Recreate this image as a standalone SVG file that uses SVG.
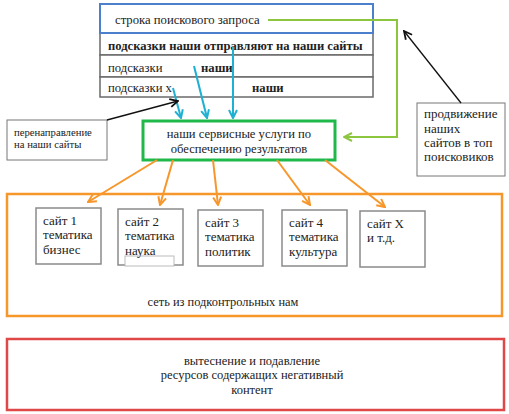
<svg xmlns="http://www.w3.org/2000/svg" width="509" height="414" viewBox="0 0 509 414">
<defs>
<style>
.row{fill:#fff;stroke:#6a6a6a;stroke-width:1.5}
.site{fill:#fff;stroke:#8a8a8a;stroke-width:1.5}
.cy{stroke:#1fb0d2;stroke-width:2;fill:none;marker-end:url(#mc)}
.or{stroke:#f7962a;stroke-width:2;fill:none;marker-end:url(#mo)}
.gr{stroke:#8cc63f;stroke-width:2;fill:none;marker-end:url(#mg)}
.bk{stroke:#111;stroke-width:1.3;fill:none;marker-end:url(#mk)}
</style>
<marker id="mc" markerWidth="10" markerHeight="10" refX="9" refY="5" orient="auto" markerUnits="userSpaceOnUse"><path d="M1,1 L9,5 L1,9" fill="none" stroke="#1fb0d2" stroke-width="2"/></marker>
<marker id="mo" markerWidth="10" markerHeight="10" refX="9" refY="5" orient="auto" markerUnits="userSpaceOnUse"><path d="M1,1 L9,5 L1,9" fill="none" stroke="#f7962a" stroke-width="2"/></marker>
<marker id="mg" markerWidth="10" markerHeight="10" refX="9" refY="5" orient="auto" markerUnits="userSpaceOnUse"><path d="M1,1 L9,5 L1,9" fill="none" stroke="#8cc63f" stroke-width="2"/></marker>
<marker id="mk" markerWidth="10" markerHeight="10" refX="9" refY="5" orient="auto" markerUnits="userSpaceOnUse"><path d="M1,1 L9,5 L1,9" fill="none" stroke="#111" stroke-width="1.8"/></marker>
</defs>
<rect width="509" height="414" fill="#fff"/>
<g id="query-table">
<rect class="row" x="100" y="33" width="273" height="22"/>
<rect class="row" x="100" y="55" width="273" height="22"/>
<rect class="row" x="100" y="77" width="273" height="20"/>
<rect x="100" y="4" width="273" height="29" fill="#fff" stroke="#4d80cc" stroke-width="2"/>
<text font-family="Liberation Serif" font-size="12.7" fill="#222" x="115" y="24">строка поискового запроса</text>
<text font-family="Liberation Serif" font-size="12.6" font-weight="bold" fill="#222" x="108" y="50">подсказки наши отправляют на наши сайты</text>
<text font-family="Liberation Serif" font-size="12.7" fill="#222" x="108" y="72">подсказки</text>
<text font-family="Liberation Serif" font-size="12.7" font-weight="bold" fill="#222" x="201" y="72">наши</text>
<text font-family="Liberation Serif" font-size="12.7" fill="#222" x="108" y="92">подсказки х</text>
<text font-family="Liberation Serif" font-size="12.7" font-weight="bold" fill="#222" x="252" y="92">наши</text>
</g>
<g id="redirect">
<rect x="7" y="120" width="100" height="40" fill="#fff" stroke="#777" stroke-width="1"/>
<text font-family="Liberation Serif" font-size="10.7" fill="#222" x="14" y="136">перенаправление</text>
<text font-family="Liberation Serif" font-size="10.7" fill="#222" x="14" y="148">на наши сайты</text>
</g>
<g id="services">
<rect x="143" y="121" width="192" height="39" fill="#fff" stroke="#1fb84a" stroke-width="3"/>
<text font-family="Liberation Serif" font-size="12.6" fill="#222" x="239" y="138" text-anchor="middle">наши сервисные услуги по</text>
<text font-family="Liberation Serif" font-size="12.6" fill="#222" x="239" y="153" text-anchor="middle">обеспечению результатов</text>
</g>
<g id="promotion">
<rect x="417" y="103" width="88" height="73" fill="#fff" stroke="#777" stroke-width="1"/>
<text font-family="Liberation Serif" font-size="13" fill="#222" x="424" y="118">продвижение</text>
<text font-family="Liberation Serif" font-size="13" fill="#222" x="424" y="133">наших</text>
<text font-family="Liberation Serif" font-size="13" fill="#222" x="424" y="147">сайтов в топ</text>
<text font-family="Liberation Serif" font-size="13" fill="#222" x="424" y="161">поисковиков</text>
</g>
<g id="network">
<rect x="7" y="194" width="495" height="122" fill="none" stroke="#f7962a" stroke-width="2.5"/>
<text font-family="Liberation Serif" font-size="12.4" fill="#222" x="223" y="306" text-anchor="middle">сеть из подконтрольных нам</text>
</g>
<g id="site1">
<rect class="site" x="36" y="208" width="65" height="56"/>
<text font-family="Liberation Serif" font-size="13" fill="#222" x="43" y="225">сайт 1</text>
<text font-family="Liberation Serif" font-size="13" fill="#222" x="43" y="239">тематика</text>
<text font-family="Liberation Serif" font-size="13" fill="#222" x="43" y="254">бизнес</text>
</g>
<g id="site2">
<rect class="site" x="118" y="209" width="65" height="56"/>
<rect x="125" y="256" width="49" height="10" fill="#fff" stroke="#bbb" stroke-width="1"/>
<text font-family="Liberation Serif" font-size="13" fill="#222" x="125" y="226">сайт 2</text>
<text font-family="Liberation Serif" font-size="13" fill="#222" x="125" y="240">тематика</text>
<text font-family="Liberation Serif" font-size="13" fill="#222" x="125" y="255">наука</text>
</g>
<g id="site3">
<rect class="site" x="198" y="210" width="65" height="56"/>
<text font-family="Liberation Serif" font-size="13" fill="#222" x="205" y="227">сайт 3</text>
<text font-family="Liberation Serif" font-size="13" fill="#222" x="205" y="241">тематика</text>
<text font-family="Liberation Serif" font-size="13" fill="#222" x="205" y="256">политик</text>
</g>
<g id="site4">
<rect class="site" x="282" y="210" width="65" height="56"/>
<text font-family="Liberation Serif" font-size="13" fill="#222" x="289" y="227">сайт 4</text>
<text font-family="Liberation Serif" font-size="13" fill="#222" x="289" y="241">тематика</text>
<text font-family="Liberation Serif" font-size="13" fill="#222" x="289" y="256">культура</text>
</g>
<g id="siteX">
<rect class="site" x="360" y="211" width="65" height="56"/>
<text font-family="Liberation Serif" font-size="13" fill="#222" x="367" y="228">сайт Х</text>
<text font-family="Liberation Serif" font-size="13" fill="#222" x="367" y="242">и т.д.</text>
</g>
<g id="suppression">
<rect x="7" y="339" width="497" height="71" fill="#fff" stroke="#e04848" stroke-width="2.5"/>
<text font-family="Liberation Serif" font-size="12.5" fill="#222" x="252" y="365" text-anchor="middle">вытеснение и подавление</text>
<text font-family="Liberation Serif" font-size="12.5" fill="#222" x="252" y="379" text-anchor="middle">ресурсов содержащих негативный</text>
<text font-family="Liberation Serif" font-size="12.5" fill="#222" x="252" y="394" text-anchor="middle">контент</text>
</g>
<g id="connectors">
<path class="cy" d="M173,88 L181,118"/>
<path class="cy" d="M194,66 L207,118"/>
<path class="cy" d="M233,47 L233,118"/>
<path class="gr" d="M268,20 L397,20 L397,137 L344,137"/>
<path class="bk" d="M107,120 L178,101"/>
<path class="bk" d="M461,103 L404,31"/>
<path class="or" d="M157,160 L88,202"/>
<path class="or" d="M173,160 L160,205"/>
<path class="or" d="M213,160 L218,205"/>
<path class="or" d="M277,160 L310,205"/>
<path class="or" d="M325,160 L385,207"/>
</g>
</svg>
